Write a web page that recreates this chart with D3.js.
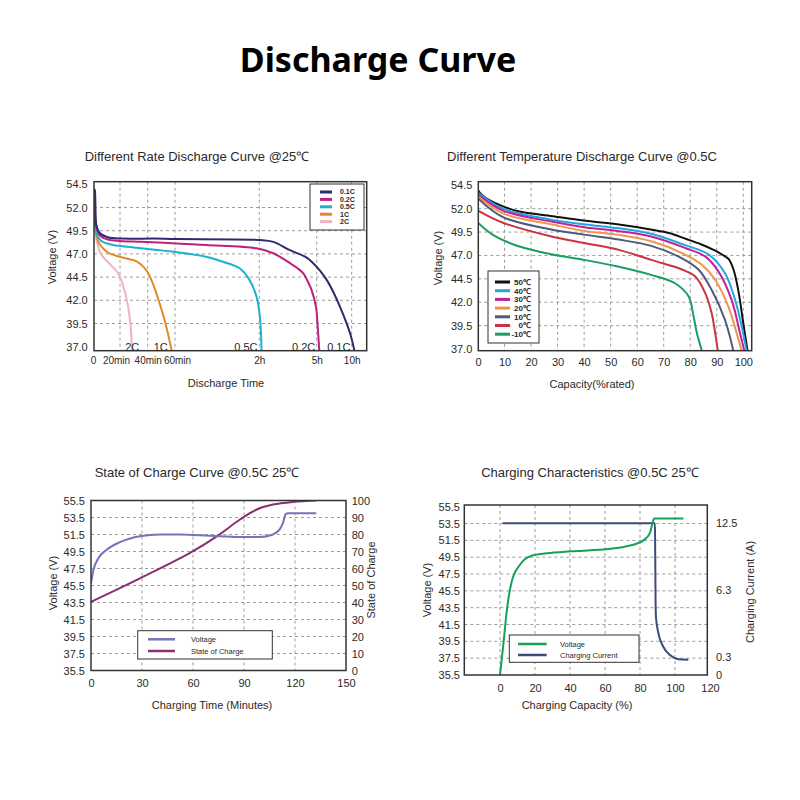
<!DOCTYPE html>
<html><head><meta charset="utf-8">
<script src="https://cdn.jsdelivr.net/npm/d3@7"></script>
<style>body{margin:0;background:#fff;} svg{display:block;}</style>
</head><body><svg id="chart" width="800" height="800"></svg>
<script>
// ---------------- DATA ----------------
const mainTitle = "Discharge Curve";

// Panel 1: Different Rate Discharge Curve (time in minutes, voltage V)
const rateSeries = ["0.1C", "0.2C", "0.5C", "1C", "2C"];
const rate01T = [0.8, 1.3, 1.8, 2.5, 5, 11, 21, 45, 60, 120, 164, 216, 268.6, 289, 328, 385.7, 442, 500, 586, 623];
const rate01V = [54.0, 53.9, 52.3, 50.1, 49.25, 48.8, 48.65, 48.65, 48.6, 48.5, 48.3, 47.4, 46.6, 46.0, 45.2, 44.2, 42.9, 41.3, 38.45, 36.57];
const rate02T = [0.8, 1.5, 2.5, 5, 11, 20, 35, 58, 82, 118, 164, 216, 238, 258, 271, 284, 297.8, 308.6, 322.3];
const rate02V = [53.3, 51.5, 49.9, 49.0, 48.55, 48.4, 48.3, 48.15, 47.95, 47.6, 47.07, 46.0, 45.5, 44.9, 44.1, 43.1, 41.3, 39.15, 36.57];
const rate05T = [0.8, 1.5, 2.5, 6, 15, 30, 45, 58, 82, 94, 106, 113, 118, 122, 127];
const rate05V = [51.5, 50.2, 49.2, 48.4, 47.95, 47.7, 47.45, 47.25, 46.7, 46.15, 45.45, 44.2, 42.4, 40.2, 36.57];
const rate1T = [0.8, 2.2, 3.7, 6.1, 11, 23, 32, 37, 40.5, 43.5, 46.5, 49.5, 52.5, 55, 57.6];
const rate1V = [51.2, 49.3, 48.4, 47.8, 47.15, 46.55, 46.2, 45.6, 44.9, 43.9, 42.7, 41.3, 39.8, 38.3, 36.57];
const rate2T = [0.8, 1.3, 2.5, 6.2, 12.6, 18.7, 22.2, 25.8, 27.6, 28.8];
const rate2V = [50.6, 49.8, 48.5, 46.9, 45.9, 44.9, 43.6, 41.4, 39.3, 36.57];
const rateTimeTicks = [0, 20, 40, 60, 120, 300, 600];
const rateTimeLabels = ["0", "20min", "40min", "60min", "2h", "5h", "10h"];
const voltTicks1 = [37.0, 39.5, 42.0, 44.5, 47.0, 49.5, 52.0, 54.5];

// Panel 2: Different Temperature Discharge Curve (capacity %, voltage V)
const tempSeries = ["50℃", "40℃", "30℃", "20℃", "10℃", "0℃", "-10℃"];
const t50C = [0, 1, 3.1, 9.4, 15.6, 28.1, 40.6, 53.1, 65.6, 72, 78.1, 84, 88, 92, 94.5, 96.3, 98.1, 100, 101.6];
const t50V = [54.0, 53.6, 53.1, 52.25, 51.7, 51.2, 50.7, 50.3, 49.75, 49.4, 48.8, 48.2, 47.7, 47.1, 46.6, 45.5, 43.3, 39.75, 36.8];
const t40C = [0, 9.4, 28.1, 40.6, 53.1, 65.6, 78.1, 86.9, 93.1, 96.9, 99.4, 101.25];
const t40V = [53.7, 52.0, 50.8, 50.3, 49.9, 49.3, 48.1, 47.1, 45.1, 42.25, 39.4, 36.8];
const t30C = [0, 9.4, 28.1, 40.6, 53.1, 65.6, 78.1, 85.6, 90.6, 95.6, 98.75, 100.4];
const t30V = [53.5, 51.8, 50.6, 50.0, 49.6, 49.0, 47.8, 46.9, 45.3, 42.25, 38.7, 36.8];
const t20C = [0, 9.4, 28.1, 40.6, 53.1, 65.6, 76.9, 84.4, 89.4, 94.4, 97.5, 99.4];
const t20V = [53.3, 51.5, 50.3, 49.6, 49.2, 48.5, 47.25, 46.0, 44.4, 41.5, 38.7, 36.8];
const t10C = [0, 9.4, 28.1, 40.6, 53.1, 65.6, 76.9, 83.1, 88.1, 93.1, 96.25];
const t10V = [53.1, 51.1, 49.75, 49.2, 48.7, 48.0, 46.7, 45.5, 43.3, 40.1, 36.8];
const t0C = [0, 9.4, 28.1, 40.6, 53.1, 65.6, 76.9, 81.9, 85.6, 88.1, 89.4, 90.4];
const t0V = [51.8, 50.5, 49.0, 48.3, 47.6, 46.5, 45.5, 44.75, 43.0, 40.8, 38.7, 36.8];
const tm10C = [0, 5.6, 15.6, 28.1, 40.6, 53.1, 65.6, 74.4, 79.4, 81.25, 82.5, 84.4];
const tm10V = [50.5, 49.2, 47.95, 47.1, 46.5, 45.8, 44.9, 44.0, 42.6, 40.5, 38.7, 36.8];
const capTicks = [0, 10, 20, 30, 40, 50, 60, 70, 80, 90, 100];

// Panel 3: State of Charge Curve (minutes)
const socSeries = ["Voltage", "State of Charge"];
const socVoltT = [0, 1.4, 4.3, 9.2, 17, 28.8, 40.6, 52.4, 64, 76, 87.6, 99.4, 107, 111, 113, 114.5, 116, 132.5];
const socVoltV = [45.76, 47.3, 48.7, 49.7, 50.6, 51.3, 51.5, 51.5, 51.4, 51.3, 51.2, 51.2, 51.5, 52.1, 52.9, 53.9, 54.0, 54.0];
const socT = [0, 28.8, 58, 74, 87.6, 97.5, 107, 119, 132.4];
const socPct = [40.4, 54.2, 69, 78.9, 88.8, 94.7, 97.6, 99.2, 100];
const chgTimeTicks = [0, 30, 60, 90, 120, 150];
const voltTicks2 = [35.5, 37.5, 39.5, 41.5, 43.5, 45.5, 47.5, 49.5, 51.5, 53.5, 55.5];
const socTicks = [0, 10, 20, 30, 40, 50, 60, 70, 80, 90, 100];

// Panel 4: Charging Characteristics (capacity %)
const chgSeries = ["Voltage", "Charging Current"];
const chgVoltC = [0, 1.9, 3.8, 6.7, 11.4, 17.1, 26.7, 40, 59, 72.4, 78, 82, 85.7, 87.6, 88.2, 104.8];
const chgVoltV = [35.5, 39.1, 43.0, 46.6, 48.6, 49.6, 49.96, 50.2, 50.4, 50.8, 51.1, 51.5, 52.4, 53.9, 54.1, 54.1];
const chgCurC = [1.5, 88.5, 88.6, 88.75, 88.9, 89.1, 90.5, 93.3, 97.1, 101.9, 107.6];
const chgCurA = [12.5, 12.5, 11.5, 8.5, 5.4, 3.92, 2.45, 1.25, 0.51, 0.27, 0.26];
const chgCapTicks = [0, 20, 40, 60, 80, 100, 120];
const currentTicks = [0, 0.3, 6.3, 12.5];

// ---------------- STYLES ----------------
const FONT = "'Liberation Sans', Arial, sans-serif";
const TXT = "#2a2a2a";
const rateColors = ["#2e2a6e", "#c01f7e", "#1fb0cf", "#e3892a", "#efb3bf"];
const tempColors = ["#111111", "#22a6e0", "#c2209a", "#f0954a", "#4d5a7c", "#cc3340", "#1a9e62"];
const socColors = ["#7474b8", "#8b2f6f"];
const chgColors = ["#18a05a", "#3d4b7a"];

const svg = d3.select("#chart");
svg.append("rect").attr("width", 800).attr("height", 800).attr("fill", "#fff");
svg.append("text").attr("x", 378).attr("y", 72).attr("text-anchor", "middle")
  .attr("font-family", "'Noto Sans', 'Open Sans', sans-serif").attr("font-weight", 700)
  .attr("font-size", 34).attr("fill", "#000").text(mainTitle);

const zip = (a, b) => a.map((v, i) => [v, b[i]]);

function makePanel(p) {
  const g = svg.append("g");
  const clipId = "clip-" + p.id;
  g.append("clipPath").attr("id", clipId).append("rect")
    .attr("x", p.L).attr("y", p.T).attr("width", p.R - p.L).attr("height", p.B - p.T);
  const grid = g.append("g").attr("stroke", "#9c9c9c").attr("stroke-dasharray", "3,3").attr("stroke-width", 1);
  grid.append("g").selectAll("line").data(p.xGrid).join("line")
    .attr("x1", d => p.x(d)).attr("x2", d => p.x(d)).attr("y1", p.T).attr("y2", p.B);
  grid.append("g").selectAll("line").data(p.yGrid).join("line")
    .attr("y1", d => p.y(d)).attr("y2", d => p.y(d)).attr("x1", p.L).attr("x2", p.R);

  const ay = g.append("g").attr("transform", `translate(${p.L},0)`)
    .call(d3.axisLeft(p.y).tickValues(p.yTicks).tickFormat(p.yFmt).tickSize(0).tickPadding(p.yPad));
  ay.select(".domain").remove();
  ay.attr("font-family", FONT).attr("font-size", 11).attr("color", TXT);

  const ax = g.append("g").attr("transform", `translate(0,${p.B})`)
    .call(d3.axisBottom(p.x).tickValues(p.xTicks).tickFormat(p.xFmt).tickSize(0).tickPadding(p.xPad));
  ax.select(".domain").remove();
  ax.attr("font-family", FONT).attr("font-size", p.xFont || 11).attr("color", TXT);
  p.xAxisG = ax;

  if (p.y2) {
    const ay2 = g.append("g").attr("transform", `translate(${p.R},0)`)
      .call(d3.axisRight(p.y2).tickValues(p.y2Ticks).tickFormat(p.y2Fmt).tickSize(0).tickPadding(p.y2Pad));
    ay2.select(".domain").remove();
    ay2.attr("font-family", FONT).attr("font-size", 11).attr("color", TXT);
    g.append("text").attr("transform", `translate(${p.y2LabelX},${p.y2LabelY}) rotate(-90)`)
      .attr("text-anchor", "middle").attr("dy", "0.35em").attr("font-family", FONT).attr("font-size", 11)
      .attr("fill", TXT).text(p.y2Label);
  }

  g.append("text").attr("x", p.titleX).attr("y", p.titleY).attr("text-anchor", "middle").attr("dy", "0.35em")
    .attr("font-family", FONT).attr("font-size", 13).attr("fill", TXT).text(p.title);
  g.append("text").attr("x", p.xLabelX).attr("y", p.xLabelY).attr("text-anchor", "middle").attr("dy", "0.35em")
    .attr("font-family", FONT).attr("font-size", 11).attr("fill", TXT).text(p.xLabel);
  g.append("text").attr("transform", `translate(${p.yLabelX},${p.yLabelY}) rotate(-90)`)
    .attr("text-anchor", "middle").attr("dy", "0.35em").attr("font-family", FONT).attr("font-size", 11)
    .attr("fill", TXT).text(p.yLabel);

  const curves = g.append("g").attr("clip-path", `url(#${clipId})`);
  const frameG = g.append("g");
  p.drawFrame = () => frameG.append("rect").attr("x", p.L).attr("y", p.T).attr("width", p.R - p.L)
    .attr("height", p.B - p.T).attr("fill", "none").attr("stroke", "#333").attr("stroke-width", 1.5);
  p.g = g; p.curves = curves;
  return p;
}

function drawLine(p, data, color, yScale, curve) {
  const ys = yScale || p.y;
  const line = d3.line().x(d => p.x(d[0])).y(d => ys(d[1])).curve(curve || d3.curveCatmullRom.alpha(0.5));
  p.curves.append("path").datum(data).attr("d", line).attr("fill", "none")
    .attr("stroke", color).attr("stroke-width", 2).attr("stroke-linejoin", "round");
}

function legendBox(g, x, y, w, h) {
  g.append("rect").attr("x", x).attr("y", y).attr("width", w).attr("height", h)
    .attr("fill", "#fff").attr("stroke", "#333").attr("stroke-width", 1);
}

// ---------- Panel 1 ----------
const p1 = makePanel({
  id: "p1", L: 94, T: 181.7, R: 366.7, B: 350.7,
  x: d3.scaleLinear().domain(rateTimeTicks).range([93, 120, 147.7, 175, 259.3, 316.7, 351.7]),
  y: d3.scaleLinear().domain([37, 54.5]).range([346.7, 184.3]),
  xTicks: rateTimeTicks, xFmt: (d, i) => rateTimeLabels[i], xPad: 6.5, xFont: 10,
  yTicks: voltTicks1, yFmt: d3.format(".1f"), yPad: 6.3,
  xGrid: rateTimeTicks.slice(1), yGrid: voltTicks1.slice(1, -1),
  title: "Different Rate Discharge Curve @25℃", titleX: 197, titleY: 156,
  xLabel: "Discharge Time", xLabelX: 226, xLabelY: 383,
  yLabel: "Voltage (V)", yLabelX: 52, yLabelY: 257
});
// nudge the crowded minute labels apart as in the reference
p1.xAxisG.selectAll(".tick text").attr("dx", (d, i) => i === 1 ? -4 : (i === 3 ? 2 : 0));
const rateData = [zip(rate01T, rate01V), zip(rate02T, rate02V), zip(rate05T, rate05V), zip(rate1T, rate1V), zip(rate2T, rate2V)];
rateData.slice().reverse().forEach((d, i) => drawLine(p1, d, rateColors[rateData.length - 1 - i]));
rateData.forEach((d, i) => {
  const last = d[d.length - 1];
  const isMid = rateSeries[i] === "2C";
  p1.g.append("text").attr("x", p1.x(last[0]) + (isMid ? 0 : -4)).attr("y", p1.y(37)).attr("dy", "0.35em")
    .attr("text-anchor", isMid ? "middle" : "end").attr("font-family", FONT).attr("font-size", 11)
    .attr("fill", TXT).text(rateSeries[i]);
});
p1.drawFrame();
{
  const lg = p1.g.append("g");
  legendBox(lg, 310, 184, 54, 46);
  rateSeries.forEach((s, i) => {
    const yy = 192 + i * 7.4;
    lg.append("line").attr("x1", 320).attr("x2", 332).attr("y1", yy).attr("y2", yy)
      .attr("stroke", rateColors[i]).attr("stroke-width", 3);
    lg.append("text").attr("x", 340).attr("y", yy).attr("dy", "0.35em").attr("font-family", FONT)
      .attr("font-size", 7).attr("font-weight", 700).attr("fill", TXT).text(s);
  });
}

// ---------- Panel 2 ----------
const p2 = makePanel({
  id: "p2", L: 478.3, T: 181.7, R: 751.7, B: 350.7,
  x: d3.scaleLinear().domain([0, 100]).range([478, 743.3]),
  y: d3.scaleLinear().domain([37, 54.5]).range([349, 185.3]),
  xTicks: capTicks, xFmt: d3.format("d"), xPad: 8,
  yTicks: voltTicks1, yFmt: d3.format(".1f"), yPad: 6,
  xGrid: capTicks.slice(1), yGrid: voltTicks1.slice(1, -1),
  title: "Different Temperature Discharge Curve @0.5C", titleX: 582, titleY: 156,
  xLabel: "Capacity(%rated)", xLabelX: 592, xLabelY: 384,
  yLabel: "Voltage (V)", yLabelX: 438.5, yLabelY: 258
});
const tempData = [zip(t50C, t50V), zip(t40C, t40V), zip(t30C, t30V), zip(t20C, t20V), zip(t10C, t10V), zip(t0C, t0V), zip(tm10C, tm10V)];
tempData.forEach((d, i) => drawLine(p2, d, tempColors[i]));
p2.drawFrame();
{
  const lg = p2.g.append("g");
  legendBox(lg, 488, 271, 51, 72);
  tempSeries.forEach((s, i) => {
    const yy = 282 + i * 8.7;
    lg.append("line").attr("x1", 495).attr("x2", 510).attr("y1", yy).attr("y2", yy)
      .attr("stroke", tempColors[i]).attr("stroke-width", 3);
    lg.append("text").attr("x", 531).attr("y", yy).attr("dy", "0.35em").attr("text-anchor", "end")
      .attr("font-family", FONT).attr("font-size", 8).attr("font-weight", 700).attr("fill", TXT).text(s);
  });
}

// ---------- Panel 3 ----------
const p3 = makePanel({
  id: "p3", L: 91, T: 500.5, R: 346, B: 670.5,
  x: d3.scaleLinear().domain([0, 150]).range([91, 346]),
  y: d3.scaleLinear().domain([35.5, 55.5]).range([670.5, 500.5]),
  xTicks: chgTimeTicks, xFmt: d3.format("d"), xPad: 8.4,
  yTicks: voltTicks2, yFmt: d3.format(".1f"), yPad: 6,
  xGrid: [30, 60, 90, 120], yGrid: voltTicks2.slice(1, -1),
  y2: d3.scaleLinear().domain([0, 100]).range([670.5, 500.5]),
  y2Ticks: socTicks, y2Fmt: d3.format("d"), y2Pad: 5.7,
  y2Label: "State of Charge", y2LabelX: 371.5, y2LabelY: 580,
  title: "State of Charge Curve @0.5C 25℃", titleX: 197, titleY: 472,
  xLabel: "Charging Time (Minutes)", xLabelX: 212, xLabelY: 705,
  yLabel: "Voltage (V)", yLabelX: 53.5, yLabelY: 583
});
drawLine(p3, zip(socT, socPct), socColors[1], p3.y2);
drawLine(p3, zip(socVoltT, socVoltV), socColors[0], null, d3.curveMonotoneX);
p3.drawFrame();
{
  const lg = p3.g.append("g");
  legendBox(lg, 137.7, 630.7, 134.6, 28.3);
  socSeries.forEach((s, i) => {
    const yy = 639.3 + i * 11.7;
    lg.append("line").attr("x1", 148).attr("x2", 175).attr("y1", yy).attr("y2", yy)
      .attr("stroke", socColors[i]).attr("stroke-width", 2.5);
    lg.append("text").attr("x", 191).attr("y", yy).attr("dy", "0.35em").attr("font-family", FONT)
      .attr("font-size", 7.5).attr("fill", TXT).text(s);
  });
}

// ---------- Panel 4 ----------
const p4 = makePanel({
  id: "p4", L: 464.3, T: 505, R: 707.3, B: 675,
  x: d3.scaleLinear().domain([0, 120]).range([500, 710]),
  y: d3.scaleLinear().domain([35.5, 55.5]).range([675, 506.7]),
  xTicks: chgCapTicks, xFmt: d3.format("d"), xPad: 9,
  yTicks: voltTicks2, yFmt: d3.format(".1f"), yPad: 4.3,
  xGrid: [0, 20, 40, 60, 80, 100], yGrid: voltTicks2.slice(1, -1),
  y2: d3.scaleLinear().domain(currentTicks).range([675, 657.4, 590, 523.3]),
  y2Ticks: currentTicks, y2Fmt: d => d === 0 ? "0" : d3.format(".1f")(d), y2Pad: 8.7,
  y2Label: "Charging Current (A)", y2LabelX: 750, y2LabelY: 592,
  title: "Charging Characteristics @0.5C 25℃", titleX: 590, titleY: 472,
  xLabel: "Charging Capacity (%)", xLabelX: 577, xLabelY: 705,
  yLabel: "Voltage (V)", yLabelX: 427.5, yLabelY: 590
});
drawLine(p4, zip(chgCurC, chgCurA), chgColors[1], p4.y2, d3.curveMonotoneX);
drawLine(p4, zip(chgVoltC, chgVoltV), chgColors[0], null, d3.curveMonotoneX);
p4.drawFrame();
{
  const lg = p4.g.append("g");
  legendBox(lg, 509.3, 635, 129.7, 27.3);
  chgSeries.forEach((s, i) => {
    const yy = 644 + i * 11;
    lg.append("line").attr("x1", 518).attr("x2", 546.7).attr("y1", yy).attr("y2", yy)
      .attr("stroke", chgColors[i]).attr("stroke-width", 2.5);
    lg.append("text").attr("x", 560).attr("y", yy).attr("dy", "0.35em").attr("font-family", FONT)
      .attr("font-size", 7.5).attr("fill", TXT).text(s);
  });
}
</script></body></html>
